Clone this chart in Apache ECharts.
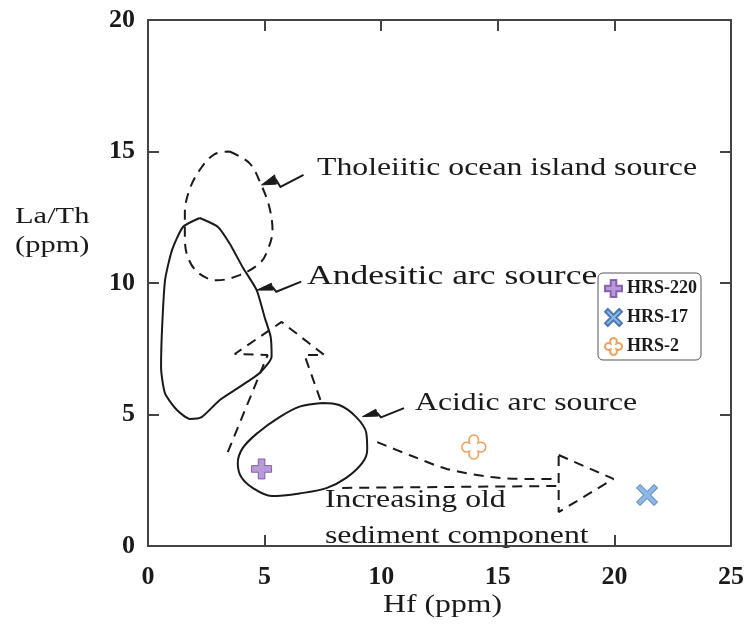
<!DOCTYPE html>
<html>
<head>
<meta charset="utf-8">
<script src="https://cdn.jsdelivr.net/npm/echarts@6/dist/echarts.min.js"></script>
<style>
  html, body { margin: 0; padding: 0; background: #ffffff; }
  #chart { width: 747px; height: 628px; }
</style>
</head>
<body>
<div id="chart"></div>
<script>
// Axis ranges and tick labels
const xTicks = [0, 5, 10, 15, 20, 25];
const yTicks = [0, 5, 10, 15, 20];
// Bottom ticks left clear of the "sediment component" caption
const xBottomTicks = [0, 5, 20, 25];

// Source fields (Hf ppm, La/Th)
const tholeiiticField = [[3.5,15.0],[4.36,14.55],[4.87,13.7],[5.2,12.9],[5.34,12.0],[5.13,11.25],[4.8,10.76],[3.93,10.3],[2.95,10.1],[2.14,10.4],[1.7,11.0],[1.58,11.75],[1.58,12.66],[1.8,13.6],[2.3,14.4],[2.86,14.9],[3.5,15.0]];
const andesiticField = [[2.22,12.47],[3.0,12.13],[3.5,11.5],[4.06,10.6],[4.66,9.73],[5.0,8.7],[5.26,7.95],[5.3,7.2],[4.79,6.58],[3.93,6.05],[3.08,5.55],[2.3,4.9],[1.8,4.83],[1.24,5.17],[0.73,5.8],[0.56,6.8],[0.6,8.2],[0.73,10.1],[1.03,11.25],[1.5,12.13],[2.22,12.47]];
const acidicField = [[7.48,5.44],[8.2,5.36],[8.93,4.9],[9.36,4.3],[9.4,3.65],[9.19,3.16],[8.5,2.59],[7.65,2.2],[6.5,2.0],[5.3,1.9],[4.5,2.2],[4.0,2.62],[3.85,3.15],[4.06,3.72],[4.7,4.3],[5.64,4.9],[6.5,5.3],[7.48,5.44]];

// Trend arrows
const upArrow = [[3.42,3.57],[5.13,7.26],[3.72,7.30],[5.73,8.52],[7.56,7.26],[6.71,7.26],[7.44,5.44]];
const sedimentUpper = [[9.83,3.95],[11.32,3.42],[12.82,2.93],[14.74,2.62],[16.32,2.55],[17.52,2.55]];
const sedimentLower = [[8.33,2.21],[17.52,2.28]];
const sedimentHead = [[17.61,3.46],[19.96,2.55],[17.61,1.29],[17.61,3.46]];

// Label pointers: filled head + zigzag tail
const pointerHeads = [
  [[4.87,13.73],[5.43,14.11],[5.51,13.76]],
  [[4.67,9.73],[5.29,9.99],[5.36,9.73]],
  [[9.2,4.92],[9.77,5.2],[9.87,4.94]]
];
const pointerTails = [
  [[5.47,13.95],[5.68,13.65],[6.67,14.11]],
  [[5.32,9.86],[5.5,9.67],[6.57,10.05]],
  [[9.82,5.07],[9.99,4.89],[10.98,5.24]]
];

// Samples
const sampleNames = ['HRS-220', 'HRS-17', 'HRS-2'];
const sampleHRS220 = [[4.87, 2.93]];
const sampleHRS17 = [[21.4, 1.94]];
const sampleHRS2 = [[13.97, 3.76]];

const plusPath = 'path://M-1,-3L1,-3L1,-1L3,-1L3,1L1,1L1,3L-1,3L-1,1L-3,1L-3,-1L-1,-1Z';
const crossPath = 'path://M-3,-2L-2,-3L0,-1L2,-3L3,-2L1,0L3,2L2,3L0,1L-2,3L-3,2L-1,0Z';
const clubPath = 'path://M-1,-1C-1.9,-3.5,1.9,-3.5,1,-1C3.5,-1.9,3.5,1.9,1,1C1.9,3.5,-1.9,3.5,-1,1C-3.5,1.9,-3.5,-1.9,-1,-1Z';

const serif = '"Liberation Serif", "Times New Roman", serif';
const ink = '#1a1a1a';

function outline(data, dashed, smooth) {
  return {
    type: 'line', data: data, showSymbol: false, symbol: 'none', smooth: smooth,
    silent: true, z: 3,
    lineStyle: { color: ink, width: 2, type: dashed ? [10, 7] : 'solid' }
  };
}

const chart = echarts.init(document.getElementById('chart'), null, { renderer: 'canvas' });

function frameAxis(extra, tickValues) {
  const tick = { show: true, inside: true, length: 11, lineStyle: { color: '#444', width: 2 } };
  if (tickValues) tick.customValues = tickValues;
  return Object.assign({
    type: 'value',
    splitLine: { show: false },
    axisLine: { show: true, onZero: false, lineStyle: { color: '#444', width: 2 } },
    axisTick: tick
  }, extra);
}

const tickFont = { color: ink, fontFamily: serif, fontWeight: 'bold', fontSize: 26 };

const option = {
  animation: false,
  backgroundColor: '#ffffff',
  grid: { left: 148, right: 14, top: 20, bottom: 82 },
  xAxis: [
    frameAxis({ min: xTicks[0], max: xTicks[xTicks.length - 1], interval: 5, position: 'bottom',
      axisLabel: Object.assign({ margin: 18 }, tickFont) }, xBottomTicks),
    frameAxis({ min: xTicks[0], max: xTicks[xTicks.length - 1], interval: 5, position: 'top',
      axisLabel: { show: false } })
  ],
  yAxis: [
    frameAxis({ min: yTicks[0], max: yTicks[yTicks.length - 1], interval: 5, position: 'left',
      axisLabel: Object.assign({ margin: 13 }, tickFont) }),
    frameAxis({ min: yTicks[0], max: yTicks[yTicks.length - 1], interval: 5, position: 'right',
      axisLabel: { show: false } })
  ],
  legend: {
    orient: 'vertical', left: 598, top: 273,
    data: sampleNames,
    itemWidth: 17, itemHeight: 17, itemGap: 10,
    padding: [6, 4, 4, 6],
    borderColor: '#555', borderWidth: 1, borderRadius: 5,
    textStyle: { fontFamily: serif, fontWeight: 'bold', fontSize: 18, color: ink }
  },
  graphic: [
    { type: 'text', x: 317, y: 168, scaleX: 1.27, style: { text: 'Tholeiitic ocean island source', font: '25px ' + serif, fill: ink, textVerticalAlign: 'middle' } },
    { type: 'text', x: 307, y: 277, scaleX: 1.27, style: { text: 'Andesitic arc source', font: '28px ' + serif, fill: ink, textVerticalAlign: 'middle' } },
    { type: 'text', x: 415, y: 403, scaleX: 1.27, style: { text: 'Acidic arc source', font: '25px ' + serif, fill: ink, textVerticalAlign: 'middle' } },
    { type: 'text', x: 325, y: 500, scaleX: 1.27, style: { text: 'Increasing old', font: '25px ' + serif, fill: ink, textVerticalAlign: 'middle' } },
    { type: 'text', x: 325, y: 536, scaleX: 1.27, style: { text: 'sediment component', font: '25px ' + serif, fill: ink, textVerticalAlign: 'middle' } },
    { type: 'text', x: 383, y: 605, scaleX: 1.27, style: { text: 'Hf (ppm)', font: '25px ' + serif, fill: ink, textVerticalAlign: 'middle' } },
    { type: 'text', x: 15, y: 217, scaleX: 1.27, style: { text: 'La/Th', font: '24px ' + serif, fill: ink, textVerticalAlign: 'middle' } },
    { type: 'text', x: 15, y: 246, scaleX: 1.27, style: { text: '(ppm)', font: '24px ' + serif, fill: ink, textVerticalAlign: 'middle' } }
  ],
  series: [
    outline(tholeiiticField, true, 0.35),
    outline(andesiticField, false, 0.2),
    outline(acidicField, false, 0.35),
    outline(upArrow, true, false),
    outline(sedimentUpper, true, 0.3),
    outline(sedimentLower, true, false),
    outline(sedimentHead, true, false),
    {
      type: 'custom', silent: true, z: 4,
      data: pointerHeads.map(function (h) { return h[0]; }),
      renderItem: function (params, api) {
        const i = params.dataIndex;
        const head = pointerHeads[i].map(function (p) { return api.coord(p); });
        const tail = pointerTails[i].map(function (p) { return api.coord(p); });
        return {
          type: 'group',
          children: [
            { type: 'polygon', shape: { points: head }, style: { fill: ink, stroke: ink, lineWidth: 1 } },
            { type: 'polyline', shape: { points: tail }, style: { fill: null, stroke: ink, lineWidth: 2 } }
          ]
        };
      }
    },
    {
      name: 'HRS-220', type: 'scatter', data: sampleHRS220, z: 5,
      symbol: plusPath, symbolSize: 20,
      itemStyle: { color: '#a77fcf', borderColor: '#6f4a9a', borderWidth: 1 }
    },
    {
      name: 'HRS-17', type: 'scatter', data: sampleHRS17, z: 5,
      symbol: crossPath, symbolSize: 21,
      itemStyle: { color: '#6ea6e0', borderColor: '#2f5f9e', borderWidth: 1 }
    },
    {
      name: 'HRS-2', type: 'scatter', data: sampleHRS2, z: 5,
      symbol: clubPath, symbolSize: 24,
      itemStyle: { color: '#ffffff', borderColor: '#e88a33', borderWidth: 1.5 }
    }
  ]
};

chart.setOption(option);
</script>
</body>
</html>
